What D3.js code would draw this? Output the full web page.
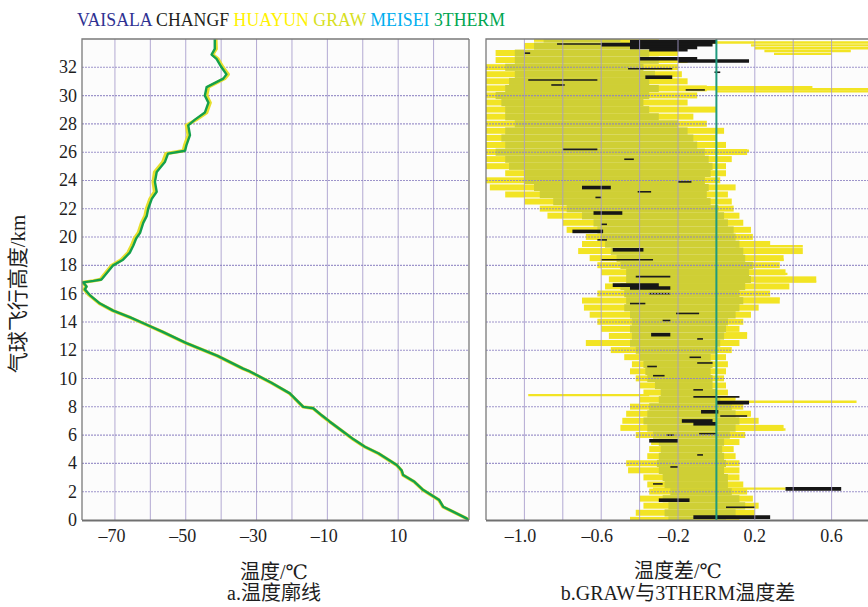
<!DOCTYPE html>
<html>
<head>
<meta charset="utf-8">
<script src="https://cdn.jsdelivr.net/npm/d3@7"></script>
<style>
  body { margin: 0; background: #fff; }
  svg { display: block; }
  svg text { font-family: "Liberation Serif", "Times New Roman", Times, "DejaVu Serif", "Noto Sans CJK SC", serif; }
</style>
</head>
<body>
<div id="chart"></div>
<script>
// legend
const sondeNames = ['VAISALA', 'CHANGF', 'HUAYUN', 'GRAW', 'MEISEI', '3THERM']
const sondeColors = ['#2e3192', '#231f20', '#fff200', '#d7df23', '#00aeef', '#00a651']

// panel a: temperature profile (km, degC)
const profileAlt = [0, 0.12, 0.94, 1.41, 2.12, 2.7, 3.18, 3.5, 3.89, 4.7, 5.18, 5.7, 6.24, 6.95, 7.4, 7.9, 8.0, 8.95, 9.7, 10.5, 10.7, 11.6, 12.5, 13.3, 13.8, 14.3, 14.8, 15.3, 15.9, 16.3, 16.5, 16.8, 16.9, 17.0, 17.3, 18.0, 18.4, 18.9, 19.4, 19.9, 20.3, 21.0, 21.5, 22.0, 22.7, 23.2, 23.9, 24.6, 25.3, 25.9, 26.1, 26.5, 27.2, 27.9, 28.3, 28.8, 29.5, 30.0, 30.6, 31.2, 31.5, 32.0, 32.6, 32.9, 33.3, 34.0]
const temp3therm = [29.8, 29.3, 22.7, 21.6, 17.1, 14.6, 11.4, 11.0, 9.6, 4.5, 0.6, -2.6, -5.5, -9.3, -11.6, -14.0, -16.8, -20.6, -25.8, -31.9, -33.8, -41.0, -49.8, -56.5, -61.0, -65.5, -70.5, -74.2, -77.1, -78.5, -78.0, -79.0, -76.0, -73.8, -72.8, -70.5, -67.7, -65.8, -64.8, -64.0, -62.9, -62.0, -61.0, -60.6, -59.6, -58.2, -58.7, -58.2, -55.9, -55.0, -50.2, -49.8, -48.8, -49.3, -47.4, -44.6, -43.6, -44.6, -44.1, -39.4, -38.5, -39.9, -41.3, -42.7, -41.8, -41.8]
const tempGraw = [29.8, 29.2, 22.6, 21.5, 17.0, 14.5, 11.3, 10.9, 9.5, 4.4, 0.5, -2.7, -5.6, -9.4, -11.7, -14.1, -16.9, -20.7, -25.9, -32.0, -33.9, -41.1, -49.9, -56.6, -61.1, -65.6, -70.6, -74.4, -77.3, -78.7, -78.2, -79.1, -76.2, -74.1, -73.2, -70.9, -68.2, -66.3, -65.3, -64.5, -63.4, -62.5, -61.5, -61.1, -60.1, -58.8, -59.2, -58.8, -56.5, -55.6, -50.7, -50.3, -49.3, -49.8, -47.0, -44.1, -43.1, -44.1, -43.6, -39.0, -38.0, -39.5, -40.9, -42.4, -41.4, -41.5]

// panel b: GRAW - 3THERM difference envelope per level (degC)
const diffAlt = [0, 0.5, 1, 1.5, 2, 2.5, 3, 3.5, 4, 4.5, 5, 5.5, 6, 6.5, 7, 7.5, 8, 8.5, 9, 9.5, 10, 10.5, 11, 11.5, 12, 12.5, 13, 13.5, 14, 14.5, 15, 15.5, 16, 16.5, 17, 17.5, 18, 18.5, 19, 19.5, 20, 20.5, 21, 21.5, 22, 22.5, 23, 23.5, 24, 24.5, 25, 25.5, 26, 26.5, 27, 27.5, 28, 28.5, 29, 29.5, 30, 30.5, 31, 31.5, 32, 32.5, 33, 33.5, 34]
const brightLeft = [-0.45, -0.42, -0.38, -0.40, -0.35, -0.36, -0.38, -0.46, -0.47, -0.36, -0.35, -0.34, -0.42, -0.50, -0.49, -0.47, -0.45, -0.40, -0.38, -0.40, -0.42, -0.45, -0.44, -0.48, -0.55, -0.68, -0.56, -0.60, -0.62, -0.66, -0.69, -0.70, -0.62, -0.58, -0.56, -0.60, -0.62, -0.66, -0.72, -0.70, -0.68, -0.78, -0.80, -0.88, -0.92, -1.00, -1.10, -1.18, -1.20, -1.10, -1.20, -1.20, -1.20, -1.20, -1.20, -1.20, -1.20, -1.20, -1.20, -1.20, -1.20, -1.20, -1.20, -1.20, -1.20, -1.15, -1.15, -1.00, -0.95]
const oliveLeft = [-0.25, -0.27, -0.25, -0.28, -0.24, -0.27, -0.28, -0.30, -0.31, -0.30, -0.29, -0.30, -0.33, -0.36, -0.38, -0.36, -0.35, -0.30, -0.29, -0.32, -0.36, -0.37, -0.38, -0.40, -0.42, -0.45, -0.44, -0.45, -0.44, -0.45, -0.48, -0.47, -0.48, -0.50, -0.47, -0.47, -0.50, -0.52, -0.55, -0.58, -0.60, -0.62, -0.64, -0.70, -0.78, -0.85, -0.92, -0.95, -1.00, -1.00, -1.08, -1.10, -1.15, -1.10, -1.12, -1.10, -1.05, -1.10, -1.10, -1.12, -1.15, -1.10, -1.08, -1.05, -1.10, -1.05, -1.05, -0.95, -0.90]
const oliveRight = [0.05, 0.10, 0.15, 0.12, 0.08, 0.06, 0.06, 0.04, 0.05, 0.04, 0.03, 0.04, 0.07, 0.10, 0.12, 0.10, 0.08, 0.02, 0.00, -0.02, -0.02, -0.03, -0.02, -0.03, 0.00, 0.02, 0.04, 0.05, 0.06, 0.10, 0.12, 0.14, 0.12, 0.15, 0.18, 0.17, 0.19, 0.15, 0.14, 0.12, 0.10, 0.09, 0.06, 0.04, 0.01, -0.03, -0.05, -0.04, -0.06, -0.03, -0.02, -0.04, -0.06, -0.10, -0.12, -0.15, -0.20, -0.30, -0.35, -0.38, -0.35, -0.30, -0.35, -0.32, -0.38, -0.30, -0.35, -0.40, -0.50]
const brightRight = [0.12, 0.20, 0.22, 0.19, 0.16, 0.14, 0.12, 0.12, 0.12, 0.10, 0.09, 0.12, 0.15, 0.35, 0.22, 0.18, 0.14, 0.10, 0.06, 0.05, 0.04, 0.05, 0.06, 0.05, 0.08, 0.12, 0.16, 0.12, 0.14, 0.18, 0.22, 0.33, 0.28, 0.38, 0.52, 0.36, 0.33, 0.35, 0.45, 0.28, 0.19, 0.18, 0.14, 0.12, 0.09, 0.08, 0.06, 0.10, 0.02, 0.05, 0.05, 0.08, 0.16, 0.05, 0.00, 0.04, -0.05, -0.12, 0.00, -0.15, -0.10, -0.05, -0.15, -0.18, -0.20, -0.15, -0.20, -0.25, -0.30]

// long streaks: [km, from, to]
const yellowStreaks = [[33.75, -0.5, 0.79], [33.55, 0.18, 0.79], [33.35, 0.2, 0.79], [33.15, 0.25, 0.7], [32.95, 0.3, 0.6], [30.6, -0.1, 0.5], [30.45, -0.2, 0.79], [30.3, 0.0, 0.79], [26.1, -0.4, 0.17], [19.35, 0.1, 0.45], [18.4, 0.1, 0.35], [17.4, 0.15, 0.37], [16.85, 0.2, 0.52], [15.65, 0.1, 0.33], [13.2, 0.05, 0.16], [8.83, -0.98, -0.35], [8.36, 0.1, 0.73], [6.4, 0.1, 0.36], [2.22, -0.33, 0.36]]
const blackStreaks = [[33.65, -0.83, -0.6], [33.0, -1.0, -0.97], [31.9, -0.46, -0.23], [31.65, -0.01, 0.02], [31.1, -0.98, -0.62], [30.75, -0.86, -0.79], [30.4, -0.16, -0.06], [26.2, -0.8, -0.62], [25.5, -0.48, -0.43], [23.9, -0.2, -0.13], [23.2, -0.41, -0.34], [22.8, -0.63, -0.6], [20.9, -0.6, -0.57], [19.8, -0.62, -0.57], [18.4, -0.6, -0.33], [17.2, -0.42, -0.24], [16.0, -0.35, -0.24], [15.3, -0.45, -0.37], [14.6, -0.21, -0.09], [14.1, -0.28, -0.24], [12.8, -0.1, -0.07], [11.5, -0.14, -0.08], [11.1, -0.1, -0.02], [10.85, -0.36, -0.31], [10.2, -0.33, -0.27], [9.2, -0.12, -0.07], [8.7, -0.12, 0.12], [7.35, 0.02, 0.16], [6.1, -0.09, 0.0], [6.0, -0.26, -0.22], [4.6, -0.1, -0.07], [3.75, -0.24, -0.2], [2.55, -0.33, -0.28], [0.9, 0.05, 0.2]]
const blackBlobs = [[33.8, -0.45, 0.0], [33.6, -0.6, -0.02], [33.4, -0.45, -0.1], [33.25, -0.35, -0.15], [32.6, -0.4, -0.1], [32.45, -0.2, 0.17], [31.3, -0.37, -0.23], [23.5, -0.7, -0.55], [21.7, -0.64, -0.49], [20.4, -0.75, -0.59], [19.1, -0.54, -0.38], [16.6, -0.54, -0.3], [16.4, -0.45, -0.24], [13.1, -0.34, -0.24], [8.3, 0.0, 0.17], [7.65, -0.08, 0.01], [7.0, -0.18, -0.02], [6.8, -0.12, 0.0], [5.6, -0.35, -0.2], [2.2, 0.36, 0.65], [1.4, -0.3, -0.14], [0.2, -0.12, 0.28]]

const altTicks = [0, 2, 4, 6, 8, 10, 12, 14, 16, 18, 20, 22, 24, 26, 28, 30, 32]
const tempTicks = [-70, -50, -30, -10, 10]
const diffTicks = [-1.0, -0.6, -0.2, 0.2, 0.6]

const W = 868, H = 607
const gridV = '#a79ccc', gridH = '#8d82c2'
const ink = '#1e1e1e'

const svg = d3.select('#chart').append('svg')
  .attr('width', W)
  .attr('height', H)

const y = d3.scaleLinear().domain([0, 34]).range([520, 39])
const xT = d3.scaleLinear().domain([-79.3, 30]).range([82, 469])
const xD = d3.scaleLinear().domain([-1.2, 0.8]).range([486, 870])

// legend
const legend = svg.append('text')
  .attr('x', 77)
  .attr('y', 26)
  .attr('font-size', 19)
  .attr('textLength', 428)
  .attr('lengthAdjust', 'spacingAndGlyphs')
sondeNames.forEach((n, i) => {
  legend.append('tspan')
    .attr('fill', sondeColors[i])
    .text(i === 0 ? n : ' ' + n)
})

function panel (x, lo, hi, clipId) {
  const g = svg.append('g')
  g.append('rect')
    .attr('x', x(lo)).attr('y', y(34))
    .attr('width', x(hi) - x(lo)).attr('height', y(0) - y(34))
    .attr('fill', '#fcfcfc')
  svg.append('clipPath').attr('id', clipId)
    .append('rect')
    .attr('x', x(lo)).attr('y', y(34))
    .attr('width', x(hi) - x(lo)).attr('height', y(0) - y(34))
  return g
}

function grid (g, x, lo, hi, vLines) {
  g.append('g').selectAll('line')
    .data(vLines).enter()
    .append('line')
    .attr('x1', d => x(d)).attr('x2', d => x(d))
    .attr('y1', y(34)).attr('y2', y(0))
    .attr('stroke', gridV).attr('stroke-width', 1).attr('opacity', 0.85)
  g.append('g').selectAll('line')
    .data(altTicks.filter(d => d > 0)).enter()
    .append('line')
    .attr('x1', x(lo)).attr('x2', x(hi))
    .attr('y1', d => y(d)).attr('y2', d => y(d))
    .attr('stroke', gridH).attr('stroke-width', 1.1)
    .attr('stroke-dasharray', '2,1').attr('opacity', 0.85)
}

function frame (g, x, lo, hi) {
  g.append('path')
    .attr('d', `M${x(hi)},${y(34)}H${x(lo)}V${y(0)}`)
    .attr('fill', 'none').attr('stroke', '#7a7a7a').attr('stroke-width', 1.3)
  g.append('line')
    .attr('x1', x(lo)).attr('x2', x(hi))
    .attr('y1', y(0) + 0.5).attr('y2', y(0) + 0.5)
    .attr('stroke', '#707070').attr('stroke-width', 2.2)
}

// ----- panel a -----
const gA = panel(xT, -79.3, 30, 'clipA')
grid(gA, xT, -79.3, 30, [-70, -60, -50, -40, -30, -20, -10, 0, 10, 20])
gA.append('line')
  .attr('x1', xT(30)).attr('x2', xT(30)).attr('y1', y(34)).attr('y2', y(0))
  .attr('stroke', '#7a7a7a').attr('stroke-width', 1.3)

const lineGraw = d3.line().x((d, i) => xT(tempGraw[i])).y((d, i) => y(profileAlt[i]))
const line3 = d3.line().x((d, i) => xT(temp3therm[i])).y((d, i) => y(profileAlt[i]))
const curves = gA.append('g').attr('clip-path', 'url(#clipA)')
curves.append('path')
  .attr('d', lineGraw(profileAlt))
  .attr('fill', 'none').attr('stroke', '#e6df2c').attr('stroke-width', 3.4)
  .attr('stroke-linejoin', 'round')
curves.append('path')
  .attr('d', line3(profileAlt))
  .attr('fill', 'none').attr('stroke', '#14a04c').attr('stroke-width', 2.4)
  .attr('stroke-linejoin', 'round')
frame(gA, xT, -79.3, 30)

// ----- panel b -----
const gB = panel(xD, -1.2, 0.8, 'clipB')
const bands = gB.append('g').attr('clip-path', 'url(#clipB)')
const half = 0.25
// bright yellow margins, drawn as streaks with a thin gap between levels
bands.append('g').selectAll('rect')
  .data(diffAlt).enter()
  .append('rect')
  .attr('x', (d, i) => xD(brightLeft[i]))
  .attr('width', (d, i) => Math.max(0, xD(brightRight[i]) - xD(brightLeft[i])))
  .attr('y', d => y(d + half) + 0.4)
  .attr('height', d => y(d - half) - y(d + half) - 1.1)
  .attr('fill', '#f2e424')
bands.append('g').selectAll('line')
  .data(yellowStreaks).enter()
  .append('line')
  .attr('x1', d => xD(d[1])).attr('x2', d => xD(d[2]))
  .attr('y1', d => y(d[0])).attr('y2', d => y(d[0]))
  .attr('stroke', '#f2e424').attr('stroke-width', 2.4)
bands.append('g').selectAll('rect')
  .data(diffAlt).enter()
  .append('rect')
  .attr('x', (d, i) => xD(oliveLeft[i]))
  .attr('width', (d, i) => Math.max(0, xD(oliveRight[i]) - xD(oliveLeft[i])))
  .attr('y', d => y(d + half))
  .attr('height', d => y(d - half) - y(d + half))
  .attr('fill', '#cfcf35')
bands.append('g').selectAll('line')
  .data(blackStreaks).enter()
  .append('line')
  .attr('x1', d => xD(d[1])).attr('x2', d => xD(d[2]))
  .attr('y1', d => y(d[0])).attr('y2', d => y(d[0]))
  .attr('stroke', '#1c1c1c').attr('stroke-width', 1.6)
bands.append('g').selectAll('line')
  .data(blackBlobs).enter()
  .append('line')
  .attr('x1', d => xD(d[1])).attr('x2', d => xD(d[2]))
  .attr('y1', d => y(d[0])).attr('y2', d => y(d[0]))
  .attr('stroke', '#161616').attr('stroke-width', 3.6)
grid(gB, xD, -1.2, 0.8, [-1.0, -0.8, -0.6, -0.4, -0.2, 0.2, 0.4, 0.6])
gB.append('line')
  .attr('x1', xD(0)).attr('x2', xD(0)).attr('y1', y(34)).attr('y2', y(0))
  .attr('stroke', '#1f9a7e').attr('stroke-width', 2)
frame(gB, xD, -1.2, 0.8)

// ----- axes text -----
svg.append('g').selectAll('text')
  .data(altTicks).enter()
  .append('text')
  .attr('x', 77)
  .attr('y', d => y(d) + 6)
  .attr('text-anchor', 'end')
  .attr('font-size', 18).attr('fill', ink)
  .text(d => d)

const fmtMinus = s => s.replace('-', '\u2013')
svg.append('g').selectAll('text')
  .data(tempTicks).enter()
  .append('text')
  .attr('x', d => xT(d) + (d < 0 ? -3 : 0))
  .attr('y', 542)
  .attr('text-anchor', 'middle')
  .attr('font-size', 18).attr('fill', ink)
  .text(d => fmtMinus(String(d)))
svg.append('g').selectAll('text')
  .data(diffTicks).enter()
  .append('text')
  .attr('x', d => xD(d) + (d < 0 ? -4 : 0))
  .attr('y', 542)
  .attr('text-anchor', 'middle')
  .attr('font-size', 18).attr('fill', ink)
  .text(d => fmtMinus(d.toFixed(1)))

const titles = [
  { x: 274, y: 579, t: '温度/℃' },
  { x: 274, y: 600, t: 'a.温度廓线' },
  { x: 678, y: 578, t: '温度差/℃' },
  { x: 678, y: 600, t: 'b.GRAW与3THERM温度差' }
]
svg.append('g').selectAll('text')
  .data(titles).enter()
  .append('text')
  .attr('x', d => d.x).attr('y', d => d.y)
  .attr('text-anchor', 'middle')
  .attr('font-size', 20).attr('fill', ink)
  .text(d => d.t)

svg.append('text')
  .attr('transform', 'translate(25,294) rotate(-90)')
  .attr('text-anchor', 'middle')
  .attr('font-size', 21).attr('fill', ink)
  .text('气球飞行高度/km')
</script>
</body>
</html>
